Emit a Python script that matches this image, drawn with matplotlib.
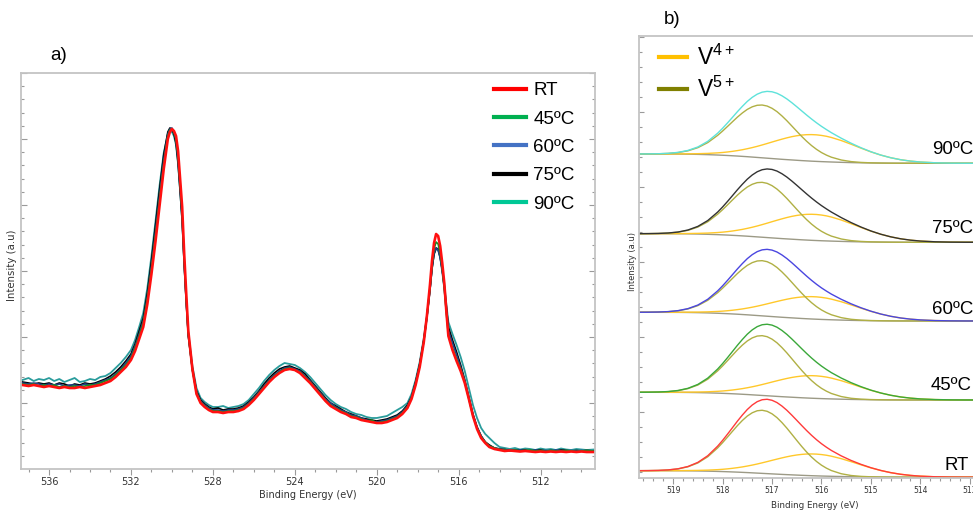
import matplotlib.pyplot as plt
from matplotlib.lines import Line2D
from matplotlib.ticker import MultipleLocator, FixedLocator
import numpy as np

plt.rcParams['font.family'] = ['DejaVu Sans']
plt.rcParams['mathtext.default'] = 'regular'

# ---------------- panel a: raw spectra (binding energy in eV, intensity a.u.) ----------------
energy_a = [537.3, 537.0, 536.75, 536.5, 536.25, 536.0, 535.75, 535.5, 535.25, 535.0, 534.75,
            534.5, 534.25, 534.0, 533.75, 533.5, 533.25, 533.0, 532.75, 532.5, 532.25, 532.0,
            531.8, 531.6, 531.4, 531.2, 531.0, 530.8, 530.6, 530.4, 530.2, 530.1, 530.0, 529.9,
            529.8, 529.7, 529.6, 529.5, 529.4, 529.3, 529.2, 529.0, 528.8, 528.6, 528.4, 528.2, 528.0,
            527.75, 527.5, 527.25, 527.0, 526.75, 526.5, 526.25, 526.0, 525.75, 525.5, 525.25, 525.0,
            524.75, 524.5, 524.25, 524.0, 523.75, 523.5, 523.25, 523.0, 522.75, 522.5, 522.25, 522.0,
            521.75, 521.5, 521.25, 521.0, 520.75, 520.5, 520.25, 520.0, 519.75, 519.5, 519.25, 519.0,
            518.75, 518.5,
            518.3, 518.1, 517.9, 517.7, 517.55, 517.4, 517.3, 517.2, 517.1, 517.0, 516.9, 516.8, 516.7,
            516.6, 516.5, 516.3, 516.1, 515.9, 515.7, 515.5, 515.3, 515.1, 514.9, 514.7, 514.5, 514.25, 514.0,
            513.75, 513.5, 513.25, 513.0, 512.75, 512.5, 512.25, 512.0, 511.75, 511.5, 511.25, 511.0,
            510.75, 510.5, 510.25, 510.0, 509.75, 509.4]

rt_a = [84, 83, 84, 83, 82, 83, 82, 81, 82, 81, 81, 82, 81, 82, 83, 84, 86, 88, 92, 97, 102, 109,
        118, 130, 142, 165, 195, 228, 264, 300, 330, 337, 340, 338, 333, 318, 290, 262, 215, 175, 138, 100, 75, 66, 62, 59, 57,
        57, 56, 57, 57, 58, 60, 64, 69, 75, 81, 87, 92, 96, 99, 100, 99, 96, 91, 86, 80, 74, 68, 63, 60, 57, 55, 52, 51, 49, 48, 47, 46, 46, 47, 49, 51, 55, 61,
        70, 84, 102, 127, 153, 184, 208, 226, 235, 233, 223, 206, 186, 158, 133, 119, 108, 98, 86, 70, 53, 40, 31, 26, 22, 20, 19,
        18, 18.5, 18, 17.5, 18, 17.5, 17, 17.5, 17, 17.5, 17, 17.5, 17, 17.5, 17, 17.5, 17, 17]
c45_a = [85, 84, 85, 83, 84, 83, 84, 82, 83, 82, 83, 82, 83, 84, 84, 86, 88, 90, 94, 99, 104, 111,
         121, 133, 146, 170, 200, 234, 270, 305, 333, 339, 340, 337, 330, 313, 285, 255, 210, 170, 135, 99, 76, 67, 63, 60, 58,
         58, 57, 58, 58, 59, 61, 65, 70, 76, 82, 88, 93, 97, 100, 101, 99, 97, 92, 87, 81, 75, 69, 64, 61, 58, 56, 53, 52, 50, 48, 49, 46, 47, 48, 50, 52, 56, 62,
         71, 85, 103, 128, 152, 181, 204, 220, 227, 225, 216, 200, 181, 156, 134, 121, 110, 100, 87, 70, 53, 41, 32, 27, 23, 21, 19.5,
         19, 18, 19, 18, 18.5, 19, 18, 18.5, 17.5, 18.5, 18, 17.5, 18.5, 18, 17.5, 18, 18.5, 18]
c60_a = [86, 85, 86, 85, 84, 85, 84, 85, 83, 84, 84, 83, 85, 84, 85, 87, 89, 91, 95, 100, 106, 113,
         123, 135, 148, 172, 203, 238, 274, 309, 335, 340, 341, 337, 329, 310, 282, 252, 207, 168, 134, 99, 77, 68, 64, 61, 59,
         59, 58, 59, 59, 60, 62, 66, 71, 77, 83, 89, 94, 98, 101, 102, 100, 98, 93, 88, 82, 76, 70, 66, 62, 59, 57, 54, 53, 51, 49, 48, 47, 48, 49, 51, 53, 57, 63,
         72, 86, 104, 128, 151, 179, 201, 216, 221, 219, 211, 197, 180, 158, 138, 126, 114, 102, 88, 71, 54, 42, 33, 27, 23, 21, 20,
         19, 19, 18, 19, 18, 18.5, 19, 18, 18.5, 18, 19, 18, 18, 18.5, 18, 18.5, 18, 18]
c75_a = [87, 86, 85, 86, 85, 86, 84, 86, 85, 83, 85, 84, 86, 85, 86, 88, 90, 93, 97, 102, 108, 115,
         125, 138, 151, 176, 208, 244, 280, 314, 337, 341, 340, 335, 326, 306, 278, 248, 204, 166, 133, 100, 78, 69, 65, 62, 60,
         61, 59, 60, 60, 61, 63, 67, 72, 78, 85, 91, 96, 100, 102, 103, 101, 99, 95, 89, 83, 77, 71, 66, 63, 60, 57, 55, 53, 51, 50, 49, 48, 49, 50, 52, 54, 58, 64,
         72, 87, 105, 129, 152, 179, 200, 215, 221, 220, 212, 199, 183, 162, 142, 129, 117, 104, 89, 72, 55, 42, 33, 27, 24, 21, 20,
         19.5, 18.5, 19, 18.5, 19, 18, 18.5, 19, 18, 18.5, 18, 19, 18.5, 18, 18.5, 18, 18.5, 18]
c90_a = [89, 91, 88, 90, 89, 91, 88, 90, 87, 89, 91, 87, 88, 90, 89, 92, 93, 96, 101, 106, 112, 119,
         129, 142, 156, 181, 213, 248, 284, 316, 335, 338, 337, 333, 324, 305, 278, 249, 206, 169, 136, 103, 81, 71, 67, 64, 62,
         62, 63, 61, 62, 63, 65, 69, 75, 81, 88, 94, 99, 103, 106, 105, 104, 101, 97, 92, 86, 80, 74, 69, 65, 62, 60, 57, 55, 54, 52, 51, 51, 52, 53, 56, 59, 62, 66,
         75, 89, 107, 131, 153, 180, 201, 215, 220, 219, 212, 200, 185, 165, 147, 135, 124, 112, 98, 81, 64, 51, 41, 35, 31, 26, 22,
         21, 20, 21, 19.5, 20.5, 20, 19, 20.5, 19.5, 20, 19, 20.5, 19.5, 19, 20, 19.5, 19, 19.5]

labels_a = ['RT', '45ºC', '60ºC', '75ºC', '90ºC']

# ---------------- panel b: V 2p3/2 fits, stacked ----------------
energy_b = [519.7, 519.5, 519.3, 519.1, 518.9, 518.7, 518.5, 518.3, 518.1, 518.0, 517.9, 517.8,
            517.7, 517.6, 517.5, 517.4, 517.3, 517.2, 517.1, 517.0, 516.9, 516.8, 516.7, 516.6,
            516.5, 516.4, 516.3, 516.2, 516.1, 516.0, 515.9, 515.8, 515.6, 515.4, 515.2, 515.0,
            514.8, 514.6, 514.4, 514.2, 514.0, 513.7, 513.4, 513.1, 512.6]
# normalised component shapes
v5_shape = [0.0005, 0.0016, 0.0046, 0.012, 0.029, 0.064, 0.127, 0.228, 0.372, 0.458, 0.550, 0.644,
            0.737, 0.822, 0.896, 0.952, 0.988, 1.0, 0.988, 0.952, 0.896, 0.822, 0.737, 0.644,
            0.550, 0.458, 0.372, 0.295, 0.228, 0.172, 0.127, 0.091, 0.044, 0.019, 0.0076, 0.0027,
            0.001, 0, 0, 0, 0, 0, 0, 0, 0]
v4_shape = [0.0002, 0.0006, 0.0014, 0.0032, 0.0068, 0.0137, 0.026, 0.047, 0.081, 0.104, 0.132, 0.166,
            0.205, 0.249, 0.300, 0.356, 0.417, 0.483, 0.551, 0.621, 0.690, 0.757, 0.819, 0.875,
            0.922, 0.960, 0.985, 0.998, 0.998, 0.985, 0.960, 0.922, 0.819, 0.690, 0.551, 0.417,
            0.300, 0.205, 0.132, 0.081, 0.047, 0.019, 0.0068, 0.0021, 0.0002]
bg_shape = [1.0, 1.0, 0.998, 0.995, 0.99, 0.98, 0.96, 0.93, 0.89, 0.865, 0.84, 0.81,
            0.78, 0.745, 0.71, 0.67, 0.63, 0.59, 0.55, 0.51, 0.47, 0.43, 0.395, 0.36,
            0.325, 0.29, 0.26, 0.23, 0.205, 0.18, 0.16, 0.14, 0.105, 0.075, 0.052, 0.035,
            0.022, 0.014, 0.008, 0.005, 0.003, 0.001, 0, 0, 0]

stacks_b = ['RT', '45ºC', '60ºC', '75ºC', '90ºC']
bg_high = [7.0, 85.4, 165.4, 244.0, 323.7]
bg_low = [0.5, 77.7, 156.7, 235.4, 314.4]
v5_height = [63.1, 59.8, 55.2, 54.9, 52.8]
v4_height = [21.8, 22.6, 22.4, 26.1, 26.6]

W, H = 973, 511
fig = plt.figure(figsize=(W / 100, H / 100), dpi=100)

frame = '#c4c4c4'
tickc = '#9a9a9a'

# ---- a ----
ax = fig.add_axes([21 / W, 1 - 469 / H, 574 / W, 396.3 / H])
cols_a = ['#ff1010', '#15901f', '#1f3f8a', '#000000', '#2a9c9c']
widths_a = [1.9, 1.2, 1.2, 1.2, 1.3]
series_a = [rt_a, c45_a, c60_a, c75_a, c90_a]
for i in [4, 3, 2, 1, 0]:
    ax.plot(energy_a, series_a[i], color=cols_a[i], lw=widths_a[i])
ax.set_xlim(537.37, 509.34)
ax.set_ylim(0, 396.3)
ax.set_xticks([536, 532, 528, 524, 520, 516, 512])
ax.xaxis.set_minor_locator(MultipleLocator(1))
ax.yaxis.set_major_locator(FixedLocator(np.arange(66, 397, 66)))
ax.yaxis.set_minor_locator(FixedLocator(np.arange(13.2, 396, 13.2)))
ax.tick_params(axis='x', which='both', direction='out', colors=tickc, labelcolor='#333333',
               labelsize=7, pad=2)
ax.tick_params(axis='x', which='major', length=4, width=0.8)
ax.tick_params(axis='x', which='minor', length=2.2, width=0.8)
ax.tick_params(axis='y', which='both', direction='in', left=True, right=True,
               labelleft=False, colors=tickc, width=0.8)
ax.tick_params(axis='y', which='major', length=4)
ax.tick_params(axis='y', which='minor', length=2.2)
for s in ax.spines.values():
    s.set_color(frame)
    s.set_linewidth(1.3)
ax.set_xlabel('Binding Energy (eV)', fontsize=7, color='#333333')
ax.xaxis.set_label_coords(0.5, -0.053)
ax.text(-0.0157, 0.515, 'Intensity (a.u)', transform=ax.transAxes, rotation=90,
        ha='center', va='center', fontsize=7.3, color='#333333')

leg_cols = ['#ff0000', '#00b050', '#4472c4', '#000000', '#00c896']
handles = [Line2D([], [], color=c, lw=3) for c in leg_cols]
ax.legend(handles, labels_a, loc='upper left', bbox_to_anchor=(494 / W, 1 - 82 / H),
          bbox_transform=fig.transFigure, frameon=False, borderpad=0, borderaxespad=0,
          handlelength=1.7, handletextpad=0.4, labelspacing=0.6,
          prop={'family': 'Liberation Sans', 'size': 13.5})
fig.text(50 / W, 1 - 60 / H, 'a)', fontsize=13.5, family='Liberation Sans')

# ---- b ----
bx = fig.add_axes([639 / W, 1 - 477.7 / H, 351 / W, 441.7 / H])
env_cols = ['#ff3a3a', '#3aa83a', '#4a46e0', '#333333', '#5ee2da']
xb = np.array(energy_b)
for k in range(len(stacks_b)):
    bg = bg_low[k] + (bg_high[k] - bg_low[k]) * np.array(bg_shape)
    v5 = bg + v5_height[k] * np.array(v5_shape)
    v4 = bg + v4_height[k] * np.array(v4_shape)
    env = bg + v5_height[k] * np.array(v5_shape) + v4_height[k] * np.array(v4_shape)
    bx.plot(xb, bg, color='#9c9a86', lw=1.0)
    bx.plot(xb, v4, color='#ffc82a', lw=1.0)
    bx.plot(xb, v5, color='#b0b044', lw=1.0)
    bx.plot(xb, env, color=env_cols[k], lw=1.0)

text_x = [513.51, 513.79, 513.77, 513.77, 513.77]
text_dy = [3.0, 6.5, 3.5, 5.0, 5.0]
for k, lab in enumerate(stacks_b):
    bx.text(text_x[k], bg_low[k] + text_dy[k], lab, fontsize=13.4, family='Liberation Sans',
            ha='left', va='bottom')

bx.set_xlim(519.69, 519.69 - 351 / 49.45)
bx.set_ylim(0, 441.7)
bx.set_xticks([519, 518, 517, 516, 515, 514, 513])
bx.xaxis.set_minor_locator(MultipleLocator(0.2))
bx.yaxis.set_major_locator(FixedLocator(np.arange(66, 442, 75)))
bx.yaxis.set_minor_locator(FixedLocator(np.arange(6, 442, 15)))
bx.tick_params(axis='x', which='both', direction='out', colors=tickc, labelcolor='#333333',
               labelsize=5.5, pad=2)
bx.tick_params(axis='x', which='major', length=4, width=0.8)
bx.tick_params(axis='x', which='minor', length=2.2, width=0.8)
bx.tick_params(axis='y', which='both', direction='in', labelleft=False, colors=tickc, width=0.8)
bx.tick_params(axis='y', which='major', length=3.5)
bx.tick_params(axis='y', which='minor', length=2)
bx.spines['right'].set_visible(False)
for s in ['left', 'top', 'bottom']:
    bx.spines[s].set_color(frame)
    bx.spines[s].set_linewidth(1.3)
bx.set_xlabel('Binding Energy (eV)', fontsize=6.3, color='#333333')
bx.xaxis.set_label_coords(0.5, -0.052)
bx.text(-0.0171, 0.49, 'Intensity (a.u)', transform=bx.transAxes, rotation=90,
        ha='center', va='center', fontsize=6, color='#333333')

handles_b = [Line2D([], [], color='#ffc000', lw=3), Line2D([], [], color='#808000', lw=3)]
bx.legend(handles_b, ['V$^{4+}$', 'V$^{5+}$'], loc='upper left',
          bbox_to_anchor=(659 / W, 1 - 45 / H), bbox_transform=fig.transFigure,
          frameon=False, borderpad=0, borderaxespad=0, handlelength=1.2,
          handletextpad=0.45, labelspacing=0.3,
          prop={'family': 'Liberation Sans', 'size': 16.5})
fig.text(664 / W, 1 - 24 / H, 'b)', fontsize=13.5, family='Liberation Sans')

fig.savefig('out.png', dpi=100)
